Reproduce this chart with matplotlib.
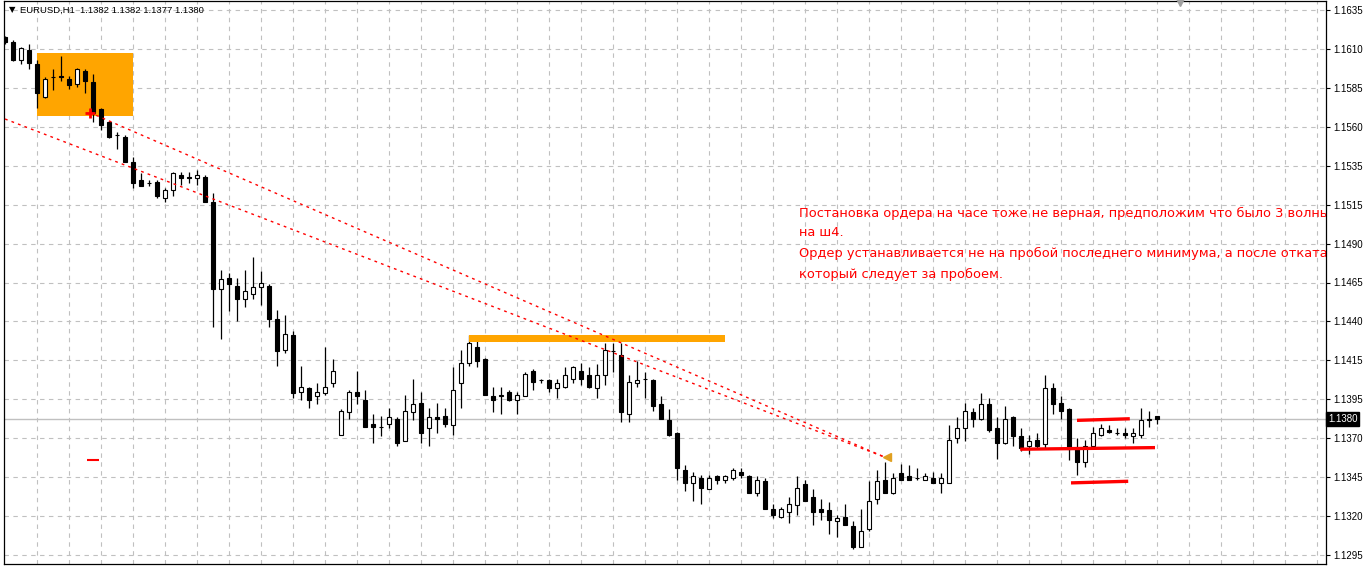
import numpy as np
import matplotlib
matplotlib.use("Agg")
import matplotlib.pyplot as plt
from matplotlib.patches import Rectangle
from matplotlib.transforms import blended_transform_factory

# EURUSD H1 candles (open, high, low, close)
opens = [1.1618, 1.1615, 1.1604, 1.1610, 1.1601, 1.1581, 1.1593, 1.1594, 1.1592, 1.1589,
         1.1597, 1.1590, 1.1573, 1.1565, 1.1557, 1.1556, 1.1540, 1.1529, 1.1527, 1.1528,
         1.1518, 1.1523, 1.1532, 1.1531, 1.1530, 1.1531, 1.1515, 1.1461, 1.1468, 1.1463,
         1.1455, 1.1458, 1.1462, 1.1463, 1.1442, 1.1423, 1.1432, 1.1397, 1.1399, 1.1394,
         1.1396, 1.1402, 1.1370, 1.1384, 1.1397, 1.1392, 1.1377, 1.1375, 1.1377, 1.1380,
         1.1366, 1.1384, 1.1390, 1.1374, 1.1381, 1.1382, 1.1376, 1.1402, 1.1415, 1.1425,
         1.1417, 1.1394, 1.1394, 1.1397, 1.1392, 1.1394, 1.1410, 1.1404, 1.1404, 1.1399,
         1.1400, 1.1405, 1.1410, 1.1407, 1.1399, 1.1407, 1.1422, 1.1420, 1.1383, 1.1402,
         1.1405, 1.1404, 1.1389, 1.1379, 1.1371, 1.1348, 1.1340, 1.1343, 1.1336, 1.1344,
         1.1342, 1.1343, 1.1347, 1.1344, 1.1334, 1.1341, 1.1324, 1.1319, 1.1322, 1.1326,
         1.1339, 1.1331, 1.1324, 1.1323, 1.1316, 1.1319, 1.1313, 1.1300, 1.1311, 1.1330,
         1.1342, 1.1334, 1.1346, 1.1344, 1.1343, 1.1342, 1.1343, 1.1340, 1.1340, 1.1368,
         1.1374, 1.1384, 1.1380, 1.1389, 1.1374, 1.1365, 1.1381, 1.1369, 1.1363, 1.1367,
         1.1364, 1.1399, 1.1390, 1.1386, 1.1361, 1.1353, 1.1363, 1.1370, 1.1373, 1.1371,
         1.1371, 1.1369, 1.1370, 1.1379, 1.1382]
highs = [1.1619, 1.1616, 1.1612, 1.1614, 1.1604, 1.1593, 1.1598, 1.1606, 1.1594, 1.1599,
         1.1598, 1.1595, 1.1574, 1.1566, 1.1559, 1.1557, 1.1543, 1.1533, 1.1529, 1.1529,
         1.1524, 1.1534, 1.1534, 1.1534, 1.1535, 1.1532, 1.1521, 1.1473, 1.1471, 1.1468,
         1.1473, 1.1481, 1.1472, 1.1464, 1.1448, 1.1445, 1.1435, 1.1413, 1.1400, 1.1402,
         1.1425, 1.1417, 1.1386, 1.1398, 1.1410, 1.1398, 1.1383, 1.1382, 1.1387, 1.1381,
         1.1395, 1.1405, 1.1397, 1.1387, 1.1390, 1.1387, 1.1412, 1.1423, 1.1432, 1.1432,
         1.1418, 1.1400, 1.1400, 1.1398, 1.1397, 1.1409, 1.1411, 1.1405, 1.1405, 1.1405,
         1.1412, 1.1413, 1.1415, 1.1412, 1.1414, 1.1427, 1.1427, 1.1427, 1.1407, 1.1416,
         1.1409, 1.1405, 1.1394, 1.1386, 1.1372, 1.1351, 1.1347, 1.1345, 1.1345, 1.1345,
         1.1345, 1.1349, 1.1349, 1.1345, 1.1344, 1.1343, 1.1327, 1.1325, 1.1331, 1.1344,
         1.1342, 1.1336, 1.1330, 1.1328, 1.1320, 1.1327, 1.1316, 1.1324, 1.1341, 1.1348,
         1.1353, 1.1346, 1.1352, 1.1351, 1.1349, 1.1346, 1.1347, 1.1346, 1.1376, 1.1381,
         1.1390, 1.1387, 1.1396, 1.1393, 1.1381, 1.1388, 1.1382, 1.1374, 1.1370, 1.1371,
         1.1407, 1.1402, 1.1394, 1.1387, 1.1368, 1.1367, 1.1375, 1.1377, 1.1376, 1.1374,
         1.1374, 1.1374, 1.1387, 1.1385, 1.1382]
lows = [1.1614, 1.1603, 1.1601, 1.1598, 1.1574, 1.1580, 1.1585, 1.1591, 1.1586, 1.1587,
        1.1583, 1.1565, 1.1560, 1.1555, 1.1548, 1.1540, 1.1524, 1.1525, 1.1525, 1.1518,
        1.1515, 1.1519, 1.1526, 1.1527, 1.1526, 1.1515, 1.1437, 1.1430, 1.1447, 1.1441,
        1.1450, 1.1455, 1.1451, 1.1437, 1.1413, 1.1421, 1.1393, 1.1392, 1.1387, 1.1389,
        1.1395, 1.1400, 1.1370, 1.1380, 1.1389, 1.1375, 1.1365, 1.1369, 1.1374, 1.1363,
        1.1366, 1.1379, 1.1365, 1.1363, 1.1371, 1.1375, 1.1370, 1.1387, 1.1413, 1.1412,
        1.1395, 1.1384, 1.1383, 1.1391, 1.1383, 1.1394, 1.1398, 1.1402, 1.1397, 1.1393,
        1.1399, 1.1402, 1.1401, 1.1399, 1.1393, 1.1401, 1.1409, 1.1378, 1.1378, 1.1400,
        1.1393, 1.1385, 1.1380, 1.1369, 1.1342, 1.1335, 1.1329, 1.1327, 1.1336, 1.1339,
        1.1340, 1.1342, 1.1343, 1.1334, 1.1332, 1.1324, 1.1318, 1.1318, 1.1315, 1.1320,
        1.1329, 1.1314, 1.1317, 1.1308, 1.1306, 1.1314, 1.1299, 1.1300, 1.1310, 1.1327,
        1.1334, 1.1333, 1.1342, 1.1342, 1.1342, 1.1342, 1.1340, 1.1334, 1.1340, 1.1365,
        1.1366, 1.1375, 1.1379, 1.1372, 1.1355, 1.1364, 1.1363, 1.1360, 1.1358, 1.1362,
        1.1362, 1.1383, 1.1380, 1.1354, 1.1345, 1.1350, 1.1362, 1.1369, 1.1371, 1.1370,
        1.1368, 1.1365, 1.1368, 1.1375, 1.1377]
closes = [1.1615, 1.1604, 1.1611, 1.1602, 1.1583, 1.1592, 1.1593, 1.1593, 1.1588, 1.1598,
          1.1591, 1.1571, 1.1563, 1.1556, 1.1557, 1.1540, 1.1527, 1.1525, 1.1527, 1.1519,
          1.1523, 1.1533, 1.1530, 1.1530, 1.1532, 1.1515, 1.1461, 1.1467, 1.1464, 1.1455,
          1.1460, 1.1462, 1.1465, 1.1442, 1.1422, 1.1433, 1.1396, 1.1400, 1.1392, 1.1397,
          1.1400, 1.1410, 1.1385, 1.1397, 1.1394, 1.1375, 1.1375, 1.1375, 1.1381, 1.1365,
          1.1385, 1.1389, 1.1371, 1.1381, 1.1380, 1.1377, 1.1398, 1.1415, 1.1427, 1.1416,
          1.1395, 1.1392, 1.1395, 1.1392, 1.1395, 1.1408, 1.1403, 1.1404, 1.1399, 1.1402,
          1.1407, 1.1412, 1.1405, 1.1400, 1.1407, 1.1423, 1.1422, 1.1384, 1.1403, 1.1404,
          1.1405, 1.1388, 1.1380, 1.1370, 1.1349, 1.1340, 1.1344, 1.1337, 1.1343, 1.1342,
          1.1344, 1.1348, 1.1345, 1.1334, 1.1342, 1.1324, 1.1320, 1.1324, 1.1327, 1.1337,
          1.1329, 1.1322, 1.1322, 1.1317, 1.1318, 1.1314, 1.1300, 1.1310, 1.1329, 1.1341,
          1.1334, 1.1343, 1.1342, 1.1342, 1.1343, 1.1344, 1.1340, 1.1343, 1.1367, 1.1374,
          1.1385, 1.1380, 1.1389, 1.1373, 1.1365, 1.1380, 1.1369, 1.1362, 1.1366, 1.1363,
          1.1399, 1.1389, 1.1385, 1.1361, 1.1353, 1.1363, 1.1371, 1.1374, 1.1372, 1.1371,
          1.1370, 1.1371, 1.1379, 1.1380, 1.1380]

# price scale labels (MT4 rounds them)
tick_labels = ["1.1635", "1.1610", "1.1585", "1.1560", "1.1535", "1.1515", "1.1490",
               "1.1465", "1.1440", "1.1415", "1.1395", "1.1370", "1.1345", "1.1320", "1.1295"]
tick_top = 1.1635
tick_bottom = 1.1295
bid = 1.1380

# drawn objects
box_x = [4, 16]
box_y = [1.1569, 1.1608]
bar_x = [58, 90]
bar_y = [1.1428, 1.1432]
trend_a_x = [0, 110]
trend_a_y = [1.1567, 1.1356]
trend_b_x = [10.6, 110]
trend_b_y = [1.1571, 1.1356]
level_lines = [([134, 140.6], [1.1379, 1.1380]),
               ([126.9, 143.75], [1.1361, 1.1362]),
               ([133.25, 140.4], [1.1340, 1.1341])]
note_lines = ["Постановка ордера на часе тоже не верная, предположим что было 3 волны",
              "на ш4.",
              "Ордер устанавливается не на пробой последнего минимума, а после отката",
              "который следует за пробоем."]
note_y = [1.1508, 1.1496, 1.1483, 1.1470]

o = np.array(opens)
h = np.array(highs)
l = np.array(lows)
c = np.array(closes)
idx = np.arange(len(o))

fig = plt.figure(figsize=(13.65, 5.68), dpi=100)
ax = fig.add_axes([4 / 1365, 4 / 568, 1322 / 1365, 563 / 568])
ax.set_xlim(-0.125, 165.125)
ax.set_ylim(1.12894, 1.16406)

# grid
ticks = np.linspace(tick_top, tick_bottom, len(tick_labels))
for t in ticks:
    ax.axhline(t, color="#c0c0c0", lw=0.8, ls=(0, (4, 4)), zorder=0)
for xg in range(4, 166, 4):
    ax.axvline(xg, color="#c0c0c0", lw=0.8, ls=(0, (4, 4)), zorder=0)

ax.axhline(bid, color="#c0c0c0", lw=1.0, zorder=1)

# orange rectangle behind candles
ax.add_patch(Rectangle((box_x[0], box_y[0]), box_x[1] - box_x[0], box_y[1] - box_y[0],
                       facecolor="#ffa500", edgecolor="none", zorder=1))

# candles
ax.vlines(idx, l, h, color="black", lw=0.9, zorder=2)
body_lo = np.minimum(o, c)
body_h = np.abs(c - o)
fills = np.where(c >= o, "white", "black")
ax.bar(idx, body_h, bottom=body_lo, width=0.62, color=fills, edgecolor="black",
       linewidth=0.8, zorder=3)

# thick orange level
ax.add_patch(Rectangle((bar_x[0], bar_y[0]), bar_x[1] - bar_x[0], bar_y[1] - bar_y[0],
                       facecolor="#ffa500", edgecolor="none", zorder=4))

# red dotted trendlines
ax.plot(trend_a_x, trend_a_y, color="red", lw=1.0, ls=(0, (2, 3)), zorder=5)
ax.plot(trend_b_x, trend_b_y, color="red", lw=1.0, ls=(0, (2, 3)), zorder=5)
ax.plot([trend_b_x[0]], [trend_b_y[0]], marker="+", color="red", ms=7, mew=2, zorder=6)
ax.plot([trend_a_x[1] + 0.3], [trend_a_y[1]], marker="<", color="#e0a020", ms=6, zorder=6)
ax.plot([11], [1.1354], marker="_", color="red", ms=9, mew=1.5, zorder=6)

# red levels on the right
for xs, ys in level_lines:
    ax.plot(xs, ys, color="red", lw=2.4, solid_capstyle="butt", zorder=6)

# comment text, clipped by the chart edge
for line, yy in zip(note_lines, note_y):
    ax.text(99.25, yy, line, color="red", fontsize=9.4, family="DejaVu Sans",
            va="center", ha="left", clip_on=True, zorder=7)

# header
fig.text(9 / 1365, 1 - 10 / 568, "▼", fontsize=6, color="black", va="center",
         family="DejaVu Sans")
fig.text(20 / 1365, 1 - 10 / 568, "EURUSD,H1  1.1382 1.1382 1.1377 1.1380", fontsize=6.8,
         color="black", va="center", family="Liberation Sans")
ax.plot([146.9], [1.16406], marker="v", color="#a0a0a0", ms=7, clip_on=False, zorder=8)

# price axis on the right
ax.yaxis.tick_right()
ax.set_yticks(ticks)
ax.set_yticklabels(tick_labels, fontsize=7, family="Liberation Sans")
ax.tick_params(axis="y", direction="out", length=3, width=0.8, pad=2)
ax.set_xticks([])
for s in ax.spines.values():
    s.set_color("black")
    s.set_linewidth(0.9)

tr = blended_transform_factory(ax.transAxes, ax.transData)
ax.text(1.0015, bid, "1.1380", transform=tr, fontsize=7, family="Liberation Sans",
        color="white", va="center", ha="left",
        bbox=dict(boxstyle="square,pad=0.2", facecolor="black", edgecolor="black"),
        zorder=9, clip_on=False)

fig.savefig("out.png", dpi=100, facecolor="white")
